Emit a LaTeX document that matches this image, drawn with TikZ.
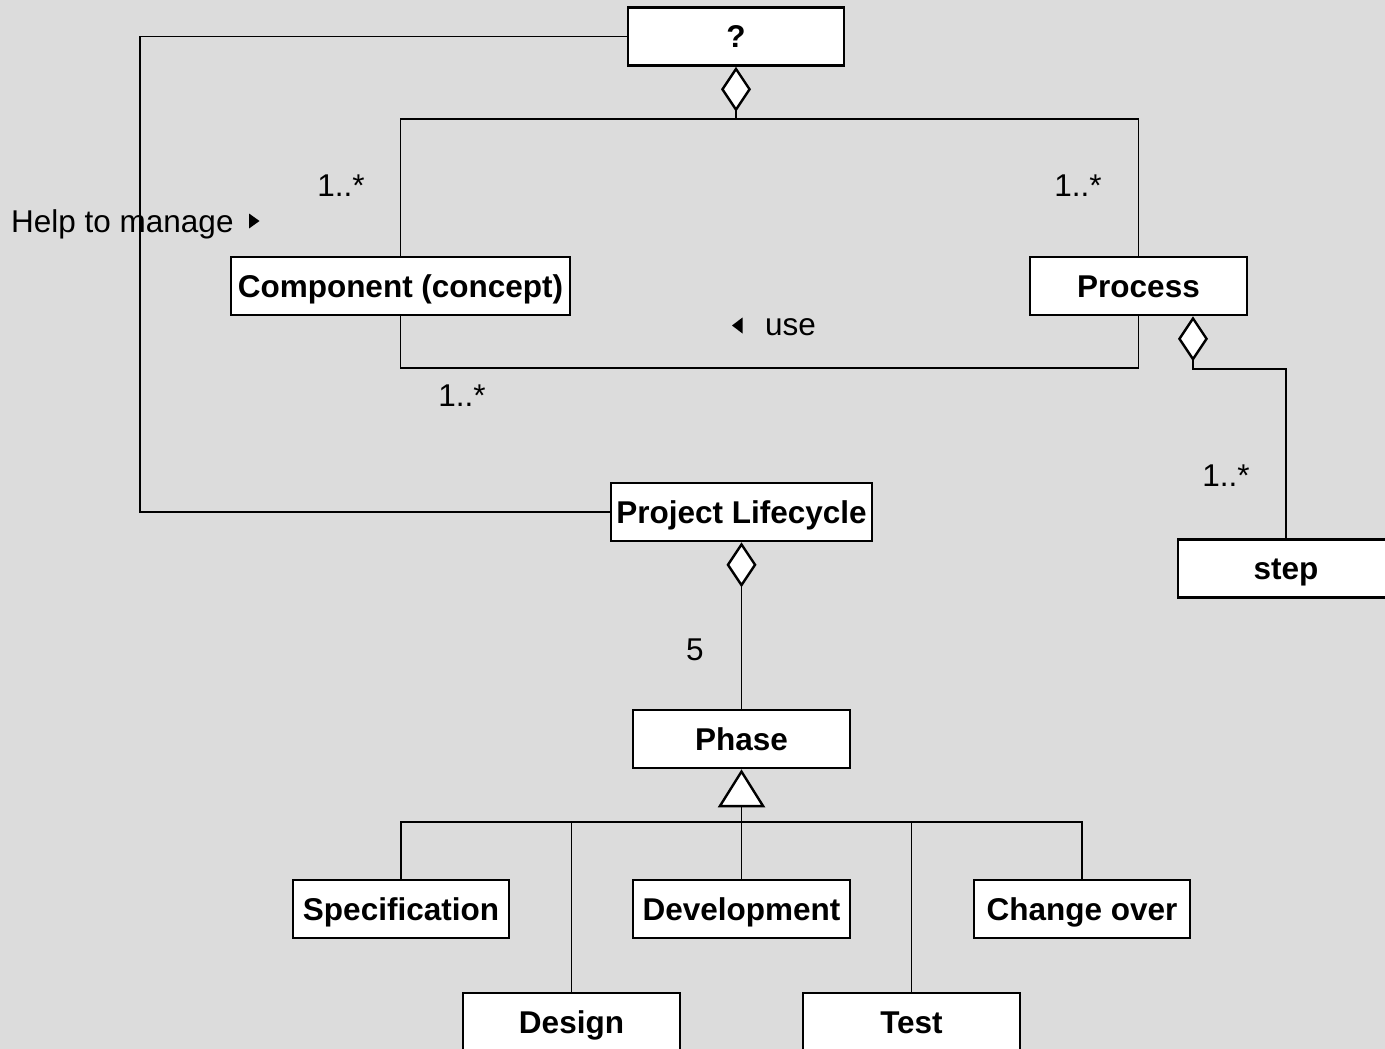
\documentclass[tikz,border=0pt]{standalone}
\usepackage{fontspec}
\setmainfont{Liberation Sans}
\usetikzlibrary{arrows.meta}
\definecolor{canvas}{RGB}{220,220,220}
\tikzset{
  txt/.style={font=\fontsize{31.5}{38}\selectfont},
  classbox/.style={draw, fill=white, line width=2.6pt, minimum height=58pt,
    inner sep=0pt, text height=22.5pt, text depth=0pt,
    font=\bfseries\fontsize{31.5}{38}\selectfont},
  lbl/.style={txt, inner sep=0pt, anchor=base},
  conn/.style={line width=1.9pt},
  agg/.style={conn, {Diamond[length=45pt,width=30pt,fill=white,line width=2.4pt]}-},
  gen/.style={conn, {Triangle[length=38pt,width=47pt,fill=white,line width=2.4pt]}-},
  marker/.style={fill=black}
}
\begin{document}
\begin{tikzpicture}[x=1pt,y=-1pt]
  \useasboundingbox (0,0) rectangle (1385,1049);
  \clip (0,0) rectangle (1385,1049);
  \fill[canvas] (0,0) rectangle (1385,1049);

  % classes
  \node[classbox, minimum width=216pt] (q)      at (736,36.5)   {?};
  \node[classbox, minimum width=339pt] (comp)   at (400.5,286)  {Component (concept)};
  \node[classbox, minimum width=217pt] (proc)   at (1138.5,286) {Process};
  \node[classbox, minimum width=261pt] (pl)     at (741.5,512)  {Project Lifecycle};
  \node[classbox, minimum width=216pt] (step)   at (1286,568.5) {step};
  \node[classbox, minimum width=217pt] (phase)  at (741.5,739)  {Phase};
  \node[classbox, minimum width=216pt] (spec)   at (401,909)    {Specification};
  \node[classbox, minimum width=217pt] (dev)    at (741.5,909)  {Development};
  \node[classbox, minimum width=216pt] (chg)    at (1082,909)   {Change over};
  \node[classbox, minimum width=217pt] (design) at (571.5,1022) {Design};
  \node[classbox, minimum width=217pt] (test)   at (911.5,1022) {Test};

  % multiplicities and association names
  \node[lbl] (m1) at (341,196)  {1..*};
  \node[lbl] (m2) at (1078,196) {1..*};
  \node[lbl] (m3) at (462,406)  {1..*};
  \node[lbl] (m4) at (1226,486) {1..*};
  \node[lbl] (m5) at (695,660)  {5};
  \node[lbl, anchor=base west] (hm)  at (11,232)  {Help to manage};
  \node[lbl, anchor=base west] (use) at (765,335) {use};
  \fill[marker] (249,213.5) -- (259.5,221) -- (249,228.5) -- cycle;
  \fill[marker] (742.5,317.5) -- (732,325.5) -- (742.5,333.5) -- cycle;

  % bend and junction points
  \coordinate (bend) at (140,36.5);
  \coordinate (jq) at (736,119);
  \coordinate (ju) at (770,368);
  \coordinate (jp) at (741.5,822);

  % "help to manage" association
  \draw[conn] (q.west) -- (bend) |- (pl.west);

  % aggregation of components and processes
  \draw[agg] (q.south) -- (jq);
  \draw[conn] (comp.north) |- (jq) -| (proc.north);

  % "use" association
  \draw[conn] (comp.south) |- (ju) -| (proc.south);

  % process made of steps
  \draw[agg] ([xshift=54.5pt]proc.south) -- ++(0,53) -| (step.north);

  % lifecycle made of phases
  \draw[agg] (pl.south) -- (phase.north);

  % phase specialisations
  \draw[gen] (phase.south) -- (jp);
  \draw[conn] (spec.north) |- (jp) -| (chg.north);
  \draw[conn] (design.north) -- (design.north |- jp);
  \draw[conn] (dev.north) -- (jp);
  \draw[conn] (test.north) -- (test.north |- jp);
\end{tikzpicture}
\end{document}
